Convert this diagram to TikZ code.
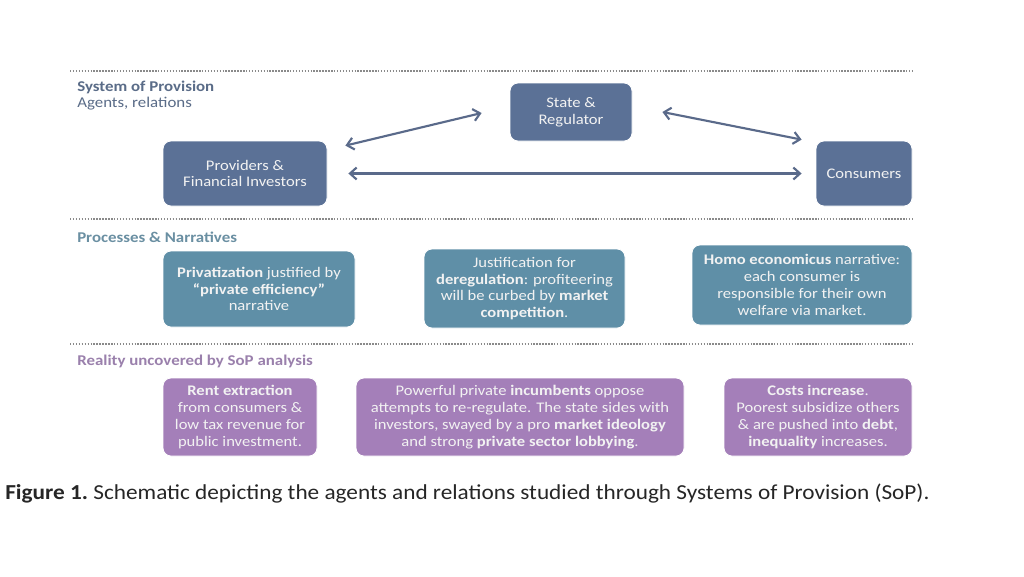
\documentclass[tikz,border=0pt]{standalone}
\usepackage{fontspec}
\setmainfont{Carlito}
\newfontfamily\widefont[FakeStretch=1.13,Ligatures=TeX]{Carlito}
\newfontfamily\capfont[FakeStretch=1.09,Ligatures=TeX]{Carlito}
\usetikzlibrary{arrows.meta,calc}
\definecolor{agentc}{HTML}{5B7196}
\definecolor{procc}{HTML}{5F8FA7}
\definecolor{realc}{HTML}{A47FB9}
\definecolor{arrc}{HTML}{5A6A8A}
\definecolor{lab1}{HTML}{5A6C88}
\definecolor{lab2}{HTML}{6A8FA2}
\definecolor{lab3}{HTML}{9A80AC}
\definecolor{dotc}{HTML}{8A8A8A}
\definecolor{boxtext}{HTML}{F2F2F2}
\begin{document}
\begin{tikzpicture}[x=0.75pt,y=-0.75pt,
  box/.style={rounded corners=6pt, inner sep=0pt, align=center, text=boxtext,
    font=\widefont\fontsize{11}{12.6}\selectfont, draw=white, line width=0.6pt},
  agent/.style={box, fill=agentc},
  proc/.style={box, fill=procc},
  real/.style={box, fill=realc},
  sep/.style={draw=dotc, line width=1.6pt, dash pattern=on 1.1pt off 1.1pt},
  arr/.style={draw=arrc, line width=1.6pt, {Straight Barb[length=5pt,width=9pt]}-{Straight Barb[length=5pt,width=9pt]}},
  seclab/.style={anchor=west, inner sep=0pt, font=\widefont\fontsize{11.2}{13}\selectfont, align=left}
]
\useasboundingbox[fill=white] (0,0) rectangle (1024,576);

% separators
\coordinate (s1a) at (70,71);  \coordinate (s1b) at (912,71);
\coordinate (s2a) at (70,219); \coordinate (s2b) at (912,219);
\coordinate (s3a) at (70,344); \coordinate (s3b) at (912,344);
\draw[sep] (s1a) -- (s1b);
\draw[sep] (s2a) -- (s2b);
\draw[sep] (s3a) -- (s3b);

% section labels
\node[seclab, text=lab1] (l1) at (77,87) {\textbf{System of Provision}};
\node[seclab, text=lab1] (l1b) at (77,104) {Agents, relations};
\node[seclab, text=lab2] (l2) at (77,237) {\textbf{Processes \& Narratives}};
\node[seclab, text=lab3] (l3) at (77,361) {\textbf{Reality uncovered by SoP analysis}};

% agents
\node[agent, minimum width=123pt, minimum height=48.75pt] (prov) at (245,173.5) {Providers \&\\Financial Investors};
\node[agent, minimum width=91.5pt, minimum height=43.5pt] (state) at (571,112) {State \&\\Regulator};
\node[agent, minimum width=72pt, minimum height=48.75pt] (cons) at (864,173.5) {Consumers};

\draw[arr] ($(prov.north east)+(18,5)$) -- ($(state.west)+(-28,1)$);
\draw[arr] ($(state.east)+(30,0)$) -- ($(cons.north west)+(-14,-1)$);
\draw[arr] ($(prov.east)+(21,0)$) -- ($(cons.west)+(-14,0)$);

% processes
\node[proc, minimum width=144pt, minimum height=57pt] (priv) at (259,289)
  {\textbf{Privatization} justified by\\\textbf{“private efficiency”}\\narrative};
\node[proc, minimum width=150.75pt, minimum height=59.25pt] (just) at (524.5,288.5)
  {Justification for\\\textbf{deregulation}: profiteering\\will be curbed by \textbf{market}\\\textbf{competition}.};
\node[proc, minimum width=165pt, minimum height=60pt] (homo) at (802,285)
  {\textbf{Homo economicus} narrative:\\each consumer is\\responsible for their own\\welfare via market.};

% reality
\node[real, minimum width=115.5pt, minimum height=58.5pt] (rent) at (240,417)
  {\textbf{Rent extraction}\\from consumers \&\\low tax revenue for\\public investment.};
\node[real, minimum width=246pt, minimum height=58.5pt] (power) at (520,417)
  {Powerful private \textbf{incumbents} oppose\\attempts to re-regulate. The state sides with\\investors, swayed by a pro \textbf{market ideology}\\and strong \textbf{private sector lobbying}.};
\node[real, minimum width=141pt, minimum height=58.5pt] (costs) at (818,417)
  {\textbf{Costs increase}.\\Poorest subsidize others\\\& are pushed into \textbf{debt},\\\textbf{inequality} increases.};

% caption
\node[anchor=west, inner sep=0pt, font=\capfont\fontsize{16}{18}\selectfont, text=black!85] (cap) at (5,494)
  {\textbf{Figure 1.}\ Schematic depicting the agents and relations studied through Systems of Provision (SoP).};
\end{tikzpicture}
\end{document}
